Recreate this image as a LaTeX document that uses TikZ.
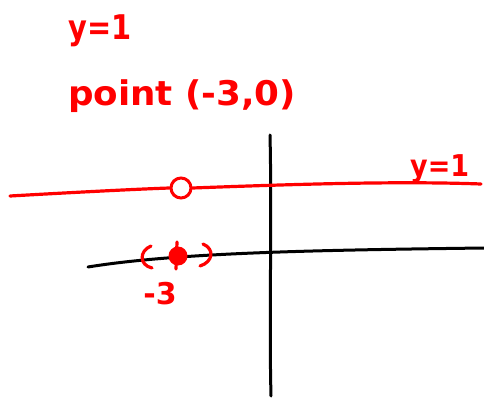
\documentclass[tikz,border=0pt]{standalone}
\usepackage{fontspec}
\setmainfont{DejaVu Sans}
\begin{document}
\begin{tikzpicture}[x=1pt,y=-1pt,
  redline/.style={draw=red, line width=3.2pt, line cap=round},
  blackline/.style={draw=black, line width=3pt, line cap=round},
  lbl/.style={text=red, font=\bfseries\fontsize{34}{38}\selectfont, inner sep=0pt}]
\useasboundingbox (0,0) rectangle (484,398);
% texts
\node[lbl, anchor=base west, xscale=0.85] (t1) at (68,40) {y=1};
\node[lbl, anchor=base west, xscale=1.05] (t2) at (68,106) {point (-3,0)};
\node[lbl, anchor=base west, xscale=0.9, font=\bfseries\fontsize{30}{34}\selectfont] (t3) at (410,177) {y=1};
\node[lbl, anchor=base, font=\bfseries\fontsize{30}{34}\selectfont] (m3) at (160,304) {-3};
% axes
\coordinate (hx0) at (88,267);
\coordinate (hx1) at (484,248);
\coordinate (vy0) at (270,135);
\coordinate (vy1) at (271,396);
\draw[blackline] (hx0) .. controls (180,252) and (330,250) .. (hx1);
\draw[blackline] (vy0) .. controls (272,220) and (269,320) .. (vy1);
% red line y=1
\coordinate (r0) at (10,196);
\coordinate (r1) at (481,184);
\node[circle, draw=red, line width=3pt, minimum size=20pt, inner sep=0pt, fill=white] (hole) at (181,188) {};
\draw[redline] (r0) .. controls (80,192) and (140,189) .. (hole.west);
\draw[redline] (hole.east) .. controls (300,184) and (400,181) .. (r1);
% filled point
\node[circle, fill=red, minimum size=19pt, inner sep=0pt] (pt) at (178,256) {};
\coordinate (tk0) at (177,242);
\coordinate (tk1) at (176,269);
\draw[redline] (tk0) -- (tk1);
\coordinate (lp0) at (151,246);
\coordinate (lp1) at (152,268);
\draw[redline] (lp0) .. controls (139,251) and (139,265) .. (lp1);
\coordinate (rp0) at (203,244);
\coordinate (rp1) at (200,266);
\draw[redline] (rp0) .. controls (215,249) and (213,262) .. (rp1);
\end{tikzpicture}
\end{document}
